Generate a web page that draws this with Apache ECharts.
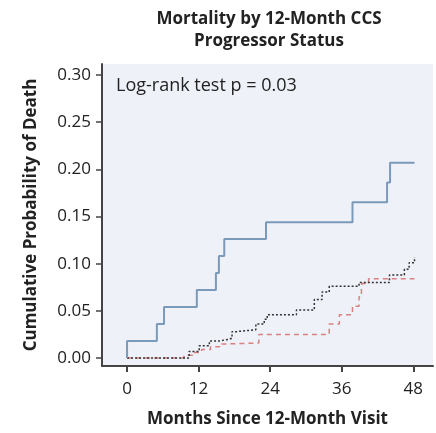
<!DOCTYPE html>
<html>
<head>
<meta charset="utf-8">
<script src="https://cdn.jsdelivr.net/npm/echarts@6/dist/echarts.min.js"></script>
<style>html,body{margin:0;padding:0;background:#fff;}#chart{width:436px;height:433px;}</style>
</head>
<body>
<div id="chart"></div>
<script>
// Data (months since 12-month visit, cumulative probability of death) — step events
const progressorSolid = [[0,0],[0,0.018],[5,0.036],[6.2,0.054],[11.7,0.072],[14.9,0.090],[15.4,0.108],[16.3,0.126],[23.3,0.144],[37.8,0.165],[43.6,0.186],[44.1,0.207],[48.2,0.207]];
const groupDotted = [[0,0],[9.2,0],[10.4,0.007],[12.1,0.013],[13.8,0.018],[15.4,0.020],[17.1,0.021],[17.6,0.028],[18.3,0.030],[21.6,0.036],[23,0.041],[23.5,0.046],[28.4,0.051],[31.4,0.062],[32.7,0.070],[33.9,0.076],[38.9,0.080],[44,0.088],[46.5,0.094],[47.3,0.101],[48.2,0.107]];
const groupDashed = [[0,0],[9.5,0],[9.6,0.003],[11,0.006],[12.5,0.009],[14,0.012],[15.5,0.015],[17,0.016],[22.1,0.025],[33.9,0.036],[35.6,0.046],[37.8,0.055],[38.9,0.065],[39.3,0.073],[39.4,0.079],[40.5,0.084],[48.2,0.084]];
const xTicks = [0, 12, 24, 36, 48];
const yTicks = [0, 0.05, 0.10, 0.15, 0.20, 0.25, 0.30];
const titleText = 'Mortality by 12-Month CCS\nProgressor Status';
const xName = 'Months Since 12-Month Visit';
const yName = 'Cumulative Probability of Death';
const noteText = 'Log-rank test p = 0.03';

const FONT = '"Open Sans", "Noto Sans", sans-serif';
const chart = echarts.init(document.getElementById('chart'), null, {renderer: 'canvas'});
chart.setOption({
  animation: false,
  backgroundColor: '#ffffff',
  title: {
    text: titleText,
    left: 264, top: 3, textAlign: 'center',
    textStyle: {fontFamily: FONT, fontSize: 17, fontWeight: 'bold', color: '#222', lineHeight: 22}
  },
  grid: {left: 102, right: 3, top: 64, bottom: 63, show: true, backgroundColor: '#eef1f8', borderWidth: 0},
  xAxis: {
    type: 'value', min: -4.2, max: 51.3,
    name: xName, nameLocation: 'middle', nameGap: 45,
    nameTextStyle: {fontFamily: FONT, fontSize: 17, fontWeight: 'bold', color: '#222'},
    axisLine: {show: true, onZero: false, lineStyle: {color: '#444', width: 2}},
    axisTick: {show: true, customValues: xTicks, length: 6, lineStyle: {color: '#444', width: 2}},
    axisLabel: {customValues: xTicks, margin: 15, fontFamily: FONT, fontSize: 17, color: '#222'},
    splitLine: {show: false}
  },
  yAxis: {
    type: 'value', min: -0.0084, max: 0.3115,
    name: yName, nameLocation: 'middle', nameGap: 62, nameRotate: 90,
    nameTextStyle: {fontFamily: FONT, fontSize: 17, fontWeight: 'bold', color: '#222'},
    axisLine: {show: true, onZero: false, lineStyle: {color: '#444', width: 2}},
    axisTick: {show: true, customValues: yTicks, length: 6, lineStyle: {color: '#444', width: 1.5}},
    axisLabel: {customValues: yTicks, margin: 11, fontFamily: FONT, fontSize: 17, color: '#222',
      formatter: v => v.toFixed(2)},
    splitLine: {show: false}
  },
  graphic: [{
    type: 'text', left: 116, top: 77,
    style: {text: noteText, fontFamily: FONT, fontSize: 18, fill: '#222'}
  }],
  series: [
    {type: 'line', step: 'end', data: groupDashed, symbol: 'none', z: 2,
     lineStyle: {color: '#d98080', width: 1.5, type: [5, 4]}},
    {type: 'line', step: 'end', data: groupDotted, symbol: 'none', z: 3,
     lineStyle: {color: '#333', width: 1.5, type: [2, 2]}},
    {type: 'line', step: 'end', data: progressorSolid, symbol: 'none', z: 4,
     lineStyle: {color: '#7b9aba', width: 2}}
  ]
});
</script>
</body>
</html>
